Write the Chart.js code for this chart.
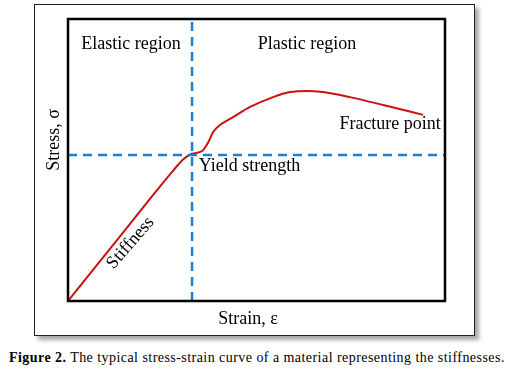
<!DOCTYPE html>
<html>
<head>
<meta charset="utf-8">
<script src="https://cdn.jsdelivr.net/npm/chart.js@4/dist/chart.umd.min.js"></script>
<style>
  body { margin: 0; background: #fff; width: 510px; height: 370px; overflow: hidden; position: relative; }
  #frame {
    position: absolute; left: 34px; top: 4px; width: 441px; height: 332px;
    box-sizing: border-box; border: 1px solid #222;
    box-shadow: 4px 4px 4px rgba(0,0,0,0.35); background: #fff;
  }
  #wrap { position: absolute; left: 0; top: 0; width: 510px; height: 340px; }
  #caption {
    position: absolute; left: 9px; top: 350px; white-space: nowrap;
    font-family: "Liberation Serif", "Times New Roman", serif; font-size: 14px;
    letter-spacing: 0.45px; color: #000;
  }
</style>
</head>
<body>
<div id="frame"></div>
<div id="wrap"><canvas id="chart" width="510" height="340"></canvas></div>
<div id="caption"><b>Figure 2.</b> The typical stress-strain curve of a material representing the stiffnesses.</div>
<script>
// Stress-strain curve (arbitrary units)
const strain = [0, 10, 20, 28, 30.6, 32.9, 35.6, 37.1, 38.5, 40.3, 43.8, 48.3, 54.4, 58.9, 63.4, 67.6, 74.8, 83.6, 94.2];
const stress = [0, 16.6, 33.3, 46.4, 50.3, 52.2, 53.2, 56.0, 59.9, 62.4, 65.2, 68.8, 72.3, 74.1, 74.5, 74.1, 72.3, 69.5, 66.0];

// yield point (dashed guide lines)
const yieldStrain = 32.9;
const yieldStress = 51.8;

// text labels placed in data coordinates
const labels = [
    { text: 'Elastic region', x: 16.7, y: 91.1, align: 'center' },
    { text: 'Plastic region', x: 63.4, y: 91.1, align: 'center' },
    { text: 'Fracture point', x: 98.9, y: 62.8, align: 'right' },
    { text: 'Yield strength', x: 34.7, y: 47.9, align: 'left' },
    { text: 'Stiffness', x: 16.6, y: 20.6, align: 'center', rot: -49 }
];

const FONT = '18px "Liberation Serif", "Times New Roman", serif';
const BLUE = '#1c7fd6';
const RED = '#cc1010';

const curve = strain.map((s, i) => ({ x: s, y: stress[i] }));

const decor = {
    id: 'decor',
    afterDraw(chart) {
        const { ctx, chartArea: a, scales: { x, y } } = chart;
        ctx.save();
        // plot box
        ctx.strokeStyle = '#000';
        ctx.lineWidth = 2.5;
        ctx.strokeRect(a.left, a.top, a.right - a.left, a.bottom - a.top);

        ctx.fillStyle = '#000';
        ctx.font = FONT;
        ctx.textBaseline = 'middle';
        labels.forEach(l => {
            ctx.save();
            ctx.translate(x.getPixelForValue(l.x), y.getPixelForValue(l.y));
            if (l.rot) ctx.rotate(l.rot * Math.PI / 180);
            ctx.textAlign = l.align;
            ctx.fillText(l.text, 0, 0);
            ctx.restore();
        });

        // axis titles
        ctx.textAlign = 'center';
        ctx.fillText('Strain, ε', a.left + 180, a.bottom + 18);
        ctx.save();
        ctx.translate(a.left - 14, a.top + 121);
        ctx.rotate(-Math.PI / 2);
        ctx.fillText('Stress, σ', 0, 0);
        ctx.restore();
        ctx.restore();
    }
};

new Chart(document.getElementById('chart'), {
    type: 'line',
    data: {
        datasets: [
            {
                data: [{ x: yieldStrain, y: 0 }, { x: yieldStrain, y: 100 }],
                borderColor: BLUE, borderWidth: 2.5, borderDash: [9, 6], pointRadius: 0
            },
            {
                data: [{ x: 0, y: yieldStress }, { x: 100, y: yieldStress }],
                borderColor: BLUE, borderWidth: 2.5, borderDash: [9, 6], pointRadius: 0
            },
            {
                data: curve,
                borderColor: RED, borderWidth: 2, pointRadius: 0,
                cubicInterpolationMode: 'monotone'
            }
        ]
    },
    options: {
        responsive: false,
        animation: false,
        events: [],
        layout: { padding: { left: 68, top: 19, right: 65, bottom: 39 } },
        plugins: { legend: { display: false }, tooltip: { enabled: false } },
        scales: {
            x: { type: 'linear', min: 0, max: 100, display: false },
            y: { type: 'linear', min: 0, max: 100, display: false }
        }
    },
    plugins: [decor]
});
</script>
</body>
</html>
